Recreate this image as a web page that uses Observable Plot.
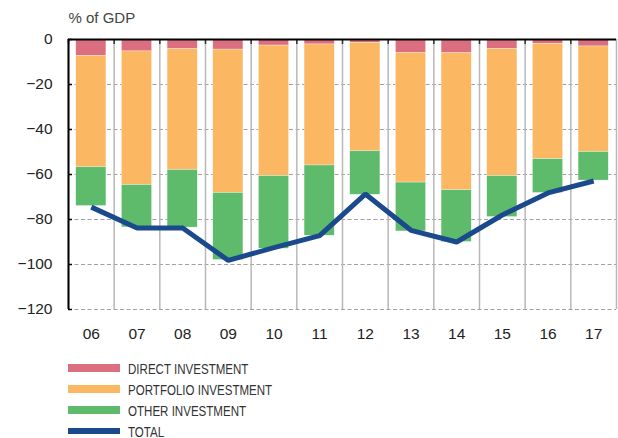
<!DOCTYPE html>
<html>
<head>
<meta charset="utf-8">
<script src="https://cdn.jsdelivr.net/npm/d3@7"></script>
<script src="https://cdn.jsdelivr.net/npm/@observablehq/plot@0.6"></script>
<style>
  body { margin: 0; background: #fff; }
  #chart svg { display: block; }
  .legend { margin-top: 12.5px; margin-left: 68px; font-family: "Liberation Sans", Arial, sans-serif; font-size: 15px; color: #333; }
  .legend .row { height: 21px; display: flex; align-items: center; white-space: nowrap; }
  .legend .sw { width: 52px; height: 8px; margin-right: 8px; flex: none; }
  .legend .lab { display: inline-block; transform: scaleX(0.77); transform-origin: left center; }
</style>
</head>
<body>
<div id="chart"></div>
<script>
const years = ["06","07","08","09","10","11","12","13","14","15","16","17"];
const seriesNames = ["DIRECT INVESTMENT", "PORTFOLIO INVESTMENT", "OTHER INVESTMENT"];
const directInv    = [-7.3, -5.3, -4.3, -4.5, -2.7, -2.2, -1.5, -6.0, -6.1, -4.2, -1.9, -3.1];
const portfolioInv = [-49.5, -59.4, -53.7, -63.7, -58.0, -53.8, -48.2, -57.6, -60.9, -56.5, -51.3, -46.9];
const otherInv     = [-17.2, -18.8, -25.6, -29.8, -32.3, -31.2, -19.3, -21.7, -23.0, -18.2, -15.0, -12.7];
const totalVals    = [-74.5, -83.8, -83.8, -98.2, -92.5, -87.2, -68.7, -84.8, -90.0, -78.0, -68.2, -62.9];
const yTicks = [0, -20, -40, -60, -80, -100, -120];
const totalName = "TOTAL";
const colors = ["#dc6f7f", "#fcb763", "#5dbb6b"];
const totalColor = "#1b4a8c";

const seriesVals = [directInv, portfolioInv, otherInv];
const long = [];
years.forEach((y, i) => seriesNames.forEach((s, j) => long.push({year: y, series: s, value: seriesVals[j][i]})));
const totals = years.map((y, i) => ({year: y, value: totalVals[i]}));

const W = 618, H = 345, mL = 68, mR = 2, mT = 39, mB = 36;
const step = (W - mL - mR) / years.length;
const plotH = H - mT - mB;
const plotW = W - mL - mR;

const chart = Plot.plot({
  width: W, height: H,
  marginLeft: mL, marginRight: mR, marginTop: mT, marginBottom: mB,
  style: {fontFamily: "Liberation Sans, Arial, sans-serif", fontSize: "15.5px", color: "#222", background: "#fff"},
  x: {type: "band", domain: years, paddingInner: 0.34, paddingOuter: 0.17, round: false, label: null, tickSize: 0, tickPadding: 18},
  y: {domain: [-120, 0], ticks: yTicks, label: null, tickSize: 0, tickPadding: 16},
  color: {domain: seriesNames, range: colors},
  marks: [
    Plot.ruleY(yTicks.filter(d => d !== 0), {y: d => d, stroke: "#a0a0a0", strokeWidth: 1, strokeDasharray: "4,2.5"}),
    Plot.ruleX(years, {x: d => d, dx: -step / 2, stroke: "#b8b8b8", strokeWidth: 1.5}),
    Plot.ruleX([years[years.length - 1]], {x: d => d, dx: step / 2, stroke: "#b8b8b8", strokeWidth: 1.5}),
    Plot.ruleX(years, {x: d => d, dx: -step / 2, stroke: "#333", strokeWidth: 1.5, insetBottom: plotH - 5}),
    Plot.barY(long, {x: "year", y: "value", fill: "series", order: seriesNames, stroke: "#fff", strokeWidth: 0.5, strokeOpacity: 0.6}),
    Plot.line(totals, {x: "year", y: "value", stroke: totalColor, strokeWidth: 5, strokeLinejoin: "miter", strokeLinecap: "butt"}),
    Plot.ruleY(yTicks, {y: d => d, stroke: "#000", strokeWidth: 1.5, insetRight: plotW - 4}),
    Plot.ruleY([0], {y: d => d, stroke: "#000", strokeWidth: 2}),
    Plot.ruleX([years[0]], {x: d => d, dx: -step / 2, stroke: "#000", strokeWidth: 2}),
    Plot.text(["% of GDP"], {frameAnchor: "top-left", text: d => d, textAnchor: "start", lineAnchor: "middle", dy: -21.5, fontSize: 15, fill: "#444"})
  ]
});
document.getElementById("chart").appendChild(chart);

const legend = document.createElement("div");
legend.className = "legend";
const items = seriesNames.map((s, i) => ({name: s, color: colors[i], h: 8})).concat([{name: totalName, color: totalColor, h: 6}]);
items.forEach(it => {
  const row = document.createElement("div");
  row.className = "row";
  const sw = document.createElement("div");
  sw.className = "sw";
  sw.style.background = it.color;
  sw.style.height = it.h + "px";
  const lab = document.createElement("span");
  lab.className = "lab";
  lab.textContent = it.name;
  row.appendChild(sw);
  row.appendChild(lab);
  legend.appendChild(row);
});
document.getElementById("chart").appendChild(legend);
</script>
</body>
</html>
